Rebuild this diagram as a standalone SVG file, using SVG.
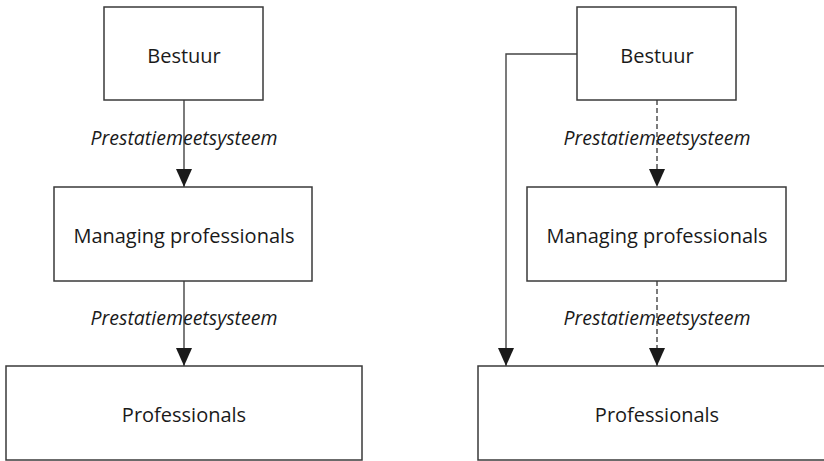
<svg xmlns="http://www.w3.org/2000/svg" width="824" height="461" viewBox="0 0 824 461">
<defs>
<style>
.box{fill:#fff;stroke:#3a3a3a;stroke-width:1.5}
.lbl{font-family:"Open Sans","Liberation Sans",sans-serif;font-size:20px;fill:#1a1a1a;text-anchor:middle}
.edge{font-family:"Open Sans","Liberation Sans",sans-serif;font-size:19.5px;font-style:italic;fill:#1a1a1a;text-anchor:middle}
.ln{fill:none;stroke:#444;stroke-width:1.4}
.dash{stroke-dasharray:5,3}
</style>
<marker id="ah" markerUnits="userSpaceOnUse" markerWidth="18" markerHeight="16" refX="18" refY="8" orient="auto" viewBox="0 0 18 16">
<path d="M0,0 L18,8 L0,16 z" fill="#1a1a1a"/>
</marker>
</defs>
<g id="connectors">
<line class="ln" x1="184" y1="100" x2="184" y2="187" marker-end="url(#ah)"/>
<line class="ln" x1="184" y1="281" x2="184" y2="366" marker-end="url(#ah)"/>
<polyline class="ln" points="577,54 506,54 506,366" marker-end="url(#ah)"/>
<line class="ln dash" x1="657" y1="100" x2="657" y2="187" marker-end="url(#ah)"/>
<line class="ln dash" x1="657" y1="281" x2="657" y2="366" marker-end="url(#ah)"/>
<text class="edge" x="184" y="145">Prestatiemeetsysteem</text>
<text class="edge" x="184" y="325">Prestatiemeetsysteem</text>
<text class="edge" x="657" y="145">Prestatiemeetsysteem</text>
<text class="edge" x="657" y="325">Prestatiemeetsysteem</text>
</g>
<g id="bestuur-left"><rect class="box" x="104" y="7" width="159" height="93"/><text class="lbl" x="184" y="63">Bestuur</text></g>
<g id="managing-left"><rect class="box" x="54" y="187" width="258" height="94"/><text class="lbl" x="184" y="243">Managing professionals</text></g>
<g id="professionals-left"><rect class="box" x="6" y="366" width="356" height="94"/><text class="lbl" x="184" y="422">Professionals</text></g>
<g id="bestuur-right"><rect class="box" x="577" y="7" width="159" height="93"/><text class="lbl" x="657" y="63">Bestuur</text></g>
<g id="managing-right"><rect class="box" x="527" y="187" width="259" height="94"/><text class="lbl" x="657" y="243">Managing professionals</text></g>
<g id="professionals-right"><rect class="box" x="478" y="366" width="356" height="94"/><text class="lbl" x="657" y="422">Professionals</text></g>
</svg>
